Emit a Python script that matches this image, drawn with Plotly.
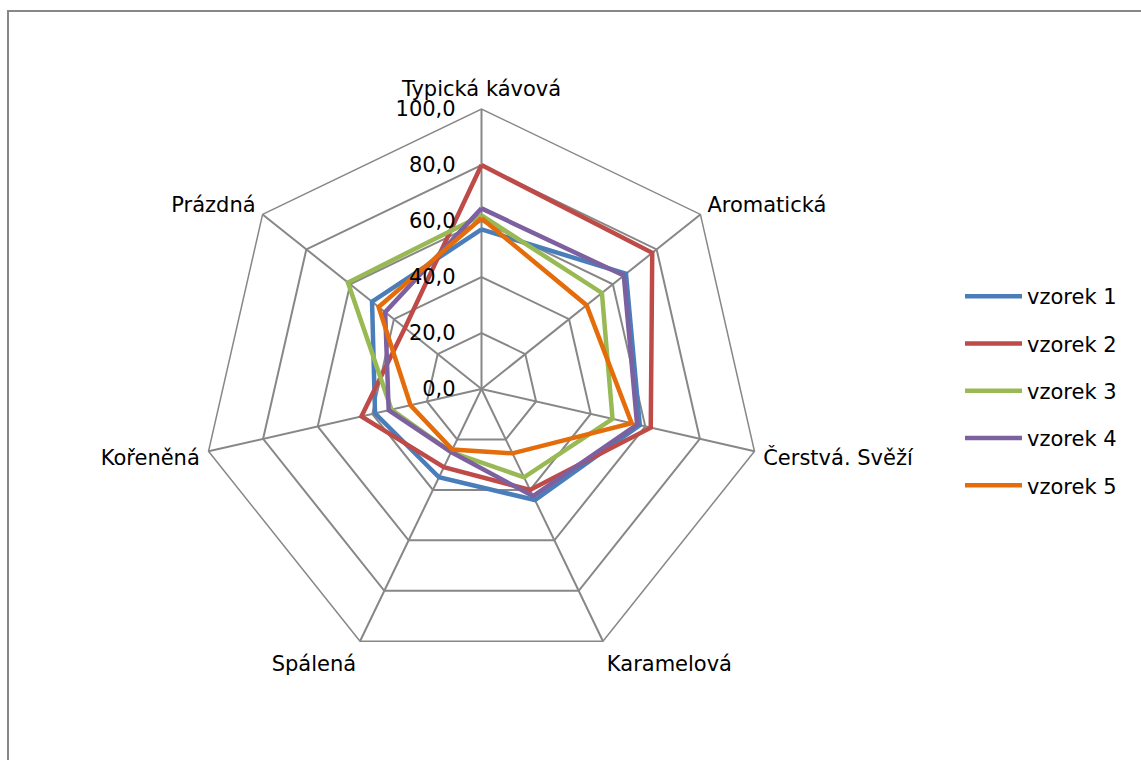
import plotly.graph_objects as go

# Sensory attributes (spokes, clockwise from the top)
attributes = ["Typická kávová", "Aromatická", "Čerstvá. Svěží", "Karamelová",
              "Spálená", "Kořeněná", "Prázdná"]

# Scores per sample (0–100)
vzorek_1 = [57, 66, 58, 44, 35, 39, 50]
vzorek_2 = [80, 78, 62, 40, 31, 44, 35]
vzorek_3 = [62, 55, 48, 35, 25, 33, 61]
vzorek_4 = [64.5, 65, 57, 42.5, 25, 34, 44]
vzorek_5 = [61, 48, 55, 25.5, 24, 26, 47]

series_names = ["vzorek 1", "vzorek 2", "vzorek 3", "vzorek 4", "vzorek 5"]
series_values = [vzorek_1, vzorek_2, vzorek_3, vzorek_4, vzorek_5]
series_colors = ["#4A7EBB", "#BE4B48", "#98B954", "#7D60A0", "#E46C0A"]

# Radial scale ticks
radial_ticks = [0, 20, 40, 60, 80, 100]
radial_tick_text = ["0,0", "20,0", "40,0", "60,0", "80,0", "100,0"]

FONT = "DejaVu Sans"
GRID = "#878787"

fig = go.Figure()
for name, vals, col in zip(series_names, series_values, series_colors):
    fig.add_trace(go.Scatterpolar(
        r=vals + vals[:1],
        theta=attributes + attributes[:1],
        mode="lines",
        name=name,
        legendgroup=name,
        line=dict(color=col, width=4.5),
    ))

W, H = 1141, 760
cx, cy, R = 481.5, 389.0, 280.0

fig.update_layout(
    width=W, height=H,
    margin=dict(l=0, r=0, t=0, b=0),
    paper_bgcolor="white",
    plot_bgcolor="white",
    font=dict(family=FONT, size=21, color="black"),
    showlegend=True,
    legend=dict(
        x=960 / W, y=1 - 276 / H, xanchor="left", yanchor="top",
        font=dict(family=FONT, size=21, color="black"),
        tracegroupgap=17,
        bgcolor="rgba(0,0,0,0)",
        itemwidth=57,
    ),
    polar=dict(
        domain=dict(x=[(cx - R) / W, (cx + R) / W],
                    y=[1 - (cy + R) / H, 1 - (cy - R) / H]),
        bgcolor="white",
        gridshape="linear",
        angularaxis=dict(
            direction="clockwise",
            rotation=90,
            showline=True,
            linecolor=GRID,
            linewidth=1.5,
            gridcolor=GRID,
            gridwidth=1.5,
            ticks="outside",
            ticklen=4,
            tickcolor="rgba(0,0,0,0)",
            tickfont=dict(family=FONT, size=21, color="black"),
        ),
        radialaxis=dict(
            range=[0, 100],
            angle=90,
            tickangle=90,
            tickvals=radial_ticks,
            ticktext=radial_tick_text,
            showline=False,
            gridcolor=GRID,
            gridwidth=1.5,
            ticks="outside",
            ticklen=18,
            tickcolor="rgba(0,0,0,0)",
            side="counterclockwise",
            tickfont=dict(family=FONT, size=21, color="black"),
        ),
    ),
    shapes=[dict(
        type="rect", xref="paper", yref="paper",
        x0=8 / W, x1=1.2, y0=-0.2, y1=1 - 11 / H,
        line=dict(color=GRID, width=2),
        fillcolor="rgba(0,0,0,0)",
        layer="below",
    )],
)

fig.write_html("out.html")
